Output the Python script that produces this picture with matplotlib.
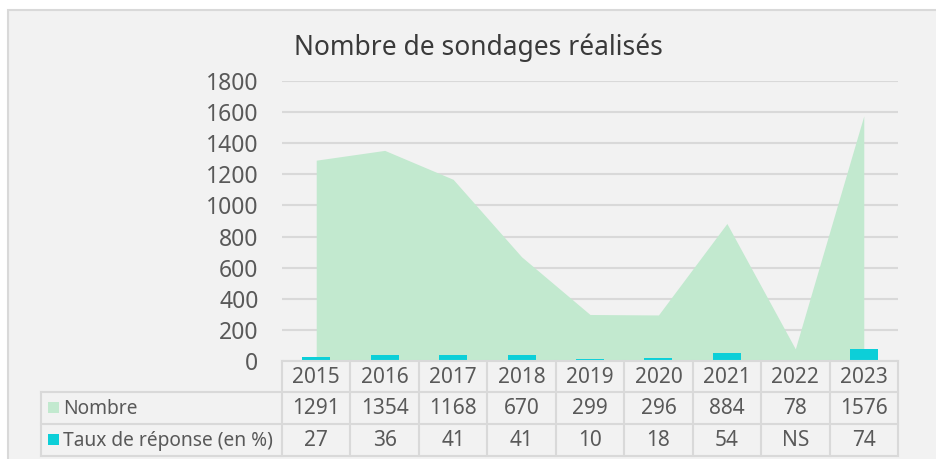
import numpy as np
import matplotlib.pyplot as plt
from matplotlib.patches import Rectangle
from matplotlib.lines import Line2D
from matplotlib.transforms import blended_transform_factory

years = ["2015", "2016", "2017", "2018", "2019", "2020", "2021", "2022", "2023"]
nombre = [1291, 1354, 1168, 670, 299, 296, 884, 78, 1576]
taux = [27, 36, 41, 41, 10, 18, 54, None, 74]
taux_labels = ["27", "36", "41", "41", "10", "18", "54", "NS", "74"]
row_names = ["Nombre", "Taux de réponse (en %)"]

green = "#c2e9cf"
cyan = "#0ccfd8"
grid = "#d9d9d9"
txt = "#595959"
font = ["Noto Sans", "DejaVu Sans"]

W, H = 936, 459
fx = lambda p: p / W
fy = lambda p: 1 - p / H

fig = plt.figure(figsize=(W / 100, H / 100), dpi=100, facecolor="white")
# grey chart panel with border, runs off right and bottom
fig.patches.append(Rectangle((fx(8), -0.1), 1.1, fy(10) + 0.1, transform=fig.transFigure,
                             facecolor="#f2f2f2", edgecolor=grid, linewidth=1.5, zorder=-5))

ax = fig.add_axes([fx(282), fy(361), fx(898) - fx(282), fy(81) - fy(361)])
ax.set_facecolor("none")

x = np.arange(len(years))
ax.fill_between(x, nombre, 0, color=green, linewidth=0, zorder=2)
bar_vals = [v if v is not None else 0 for v in taux]
ax.bar(x, bar_vals, width=0.41, color=cyan, zorder=3)

ax.set_xlim(-0.5, len(years) - 0.5)
ax.set_ylim(0, 1800)
ax.set_yticks(range(0, 1801, 200))
ax.yaxis.grid(True, color=grid, linewidth=1.5, zorder=1)
ax.set_axisbelow(True)
ax.tick_params(axis="y", length=0, pad=17, labelsize=16.5, labelcolor=txt)
ax.set_xticks([])
for s in ax.spines.values():
    s.set_visible(False)
for lab in ax.get_yticklabels():
    lab.set_family(font)

# data table under the chart (x from the data axis, y in figure pixels)
tr = blended_transform_factory(ax.transData, fig.transFigure)
n = len(years)
rows_y = [361, 392, 424, 456]
lw = 1.5
for i, yy in enumerate(rows_y):
    x0 = fx(282) if i == 0 else fx(41)
    fig.add_artist(Line2D([x0, fx(898)], [fy(yy), fy(yy)], transform=fig.transFigure,
                          color=grid, linewidth=lw))
fig.add_artist(Line2D([fx(41), fx(41)], [fy(392), fy(456)], transform=fig.transFigure,
                      color=grid, linewidth=lw))
for k in range(n + 1):
    fig.add_artist(Line2D([k - 0.5, k - 0.5], [fy(361), fy(456)], transform=tr,
                          color=grid, linewidth=lw))

cells = [years, [str(v) for v in nombre], taux_labels]
for r, row in enumerate(cells):
    yc = fy((rows_y[r] + rows_y[r + 1]) / 2 + 1)
    for k, s in enumerate(row):
        fig.text(k, yc, s, transform=tr, ha="center", va="center",
                 fontsize=15, color=txt, family=font)

for r, (name, col) in enumerate(zip(row_names, [green, cyan])):
    yc = (rows_y[r + 1] + rows_y[r + 2]) / 2
    fig.patches.append(Rectangle((fx(48), fy(yc + 5)), 11 / W, 11 / H,
                                 transform=fig.transFigure, facecolor=col,
                                 edgecolor="none", zorder=5))
    fig.text(fx(63), fy(yc + 1), name, ha="left", va="center",
             fontsize=13.8, color=txt, family=font)

fig.text(fx(478), fy(48), "Nombre de sondages réalisés", ha="center", va="center",
         fontsize=19, color="#3a3a3a", family=font)

fig.savefig("out.png", dpi=100, facecolor=fig.get_facecolor())
